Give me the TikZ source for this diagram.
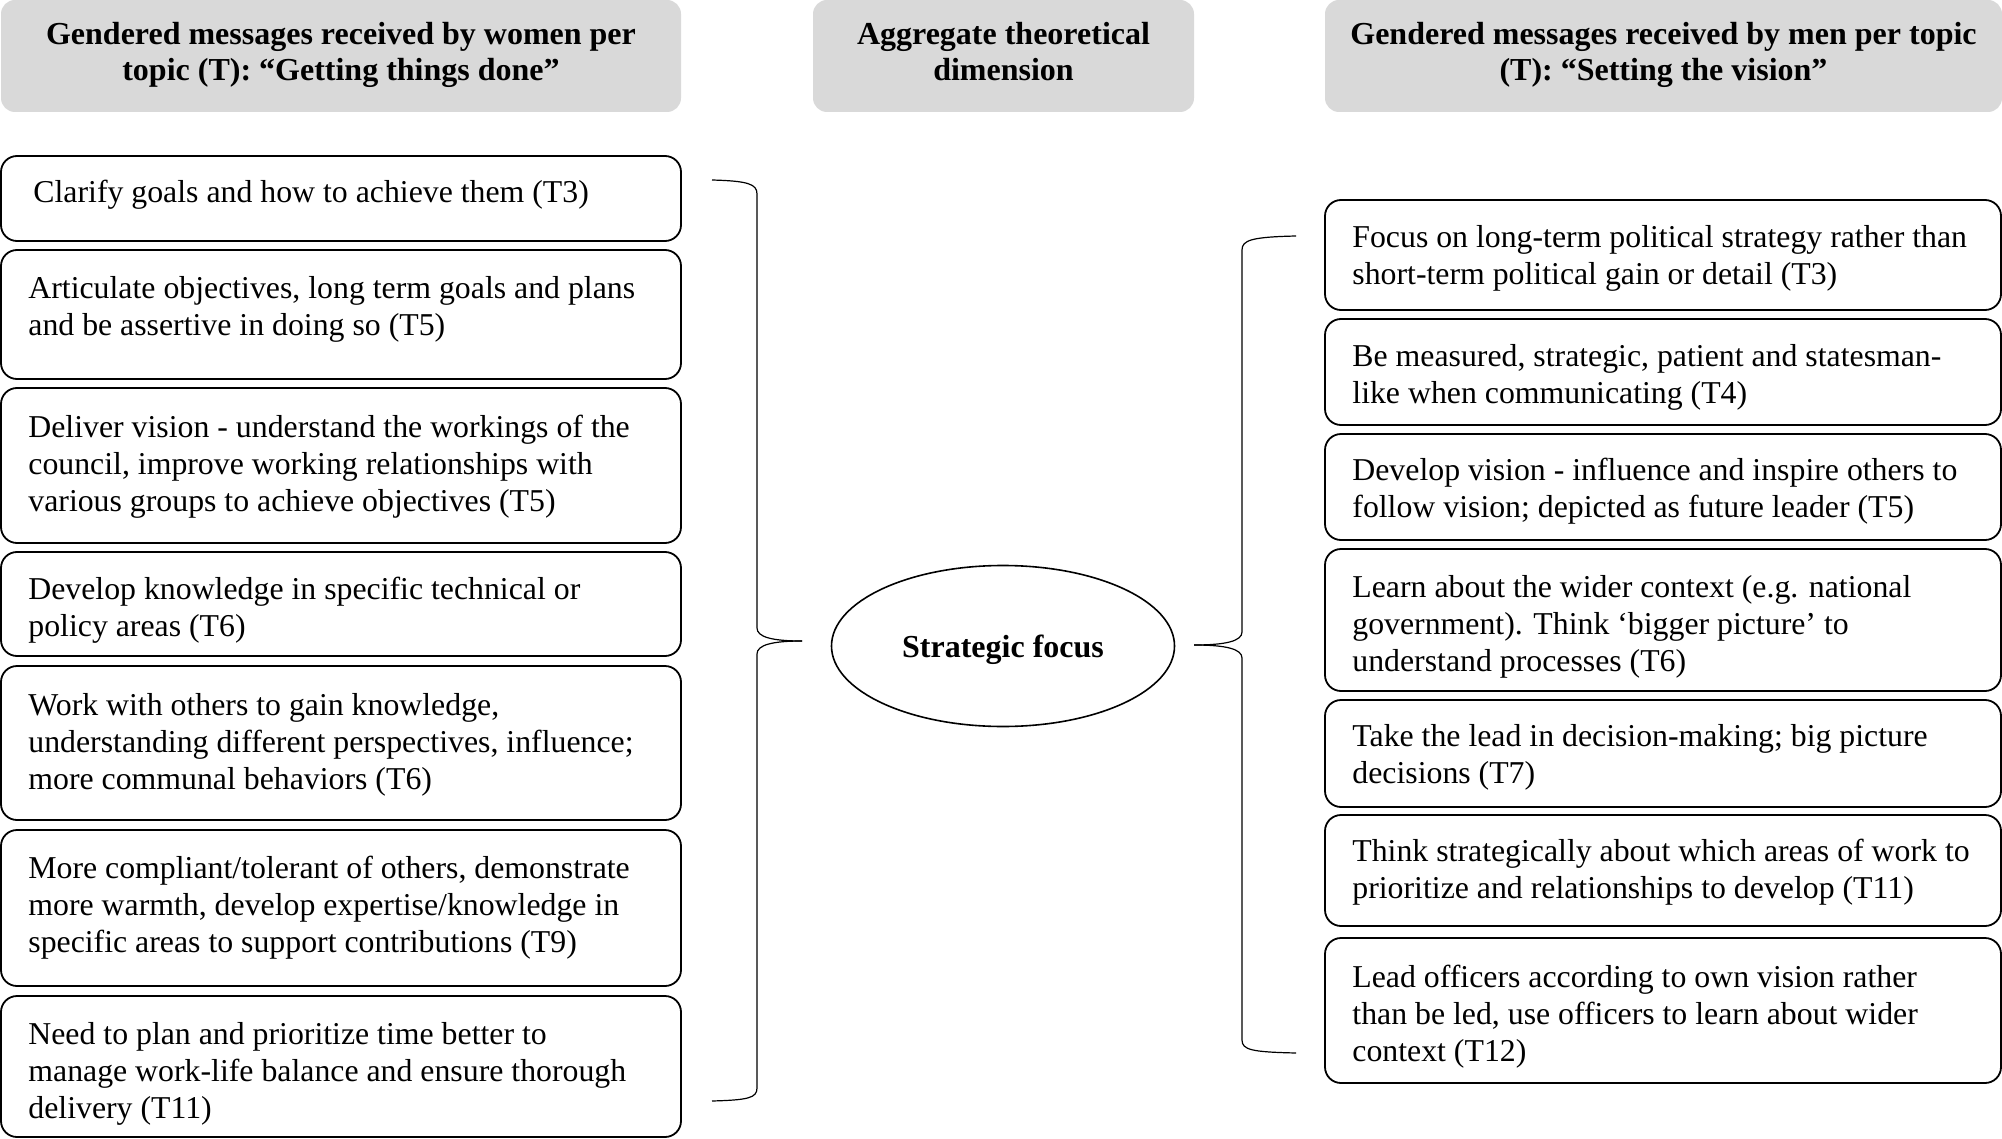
\documentclass[tikz,border=0pt]{standalone}
\usepackage{fontspec}
\setmainfont{Liberation Serif}
\usetikzlibrary{shapes.geometric}
\definecolor{hdrgray}{RGB}{217,217,217}
\tikzset{
  hdr/.style={fill=hdrgray, rounded corners=7pt, inner sep=0pt},
  hdrtext/.style={align=center, font=\fontsize{16}{18}\selectfont\bfseries, inner sep=0pt},
  msgbox/.style={draw, line width=0.9pt, rounded corners=8pt, inner sep=0pt},
  lbox/.style={msgbox, minimum width=340pt, minimum height=#1*0.5pt},
  rbox/.style={msgbox, minimum width=338pt, minimum height=#1*0.5pt},
  msgtext/.style={anchor=west, align=left, inner sep=0pt, font=\fontsize{15.9}{18.5}\selectfont},
  brace/.style={line width=0.6pt},
}
\begin{document}
\begin{tikzpicture}[x=0.5pt,y=-0.5pt]
\useasboundingbox (0,0) rectangle (2002,1139);
% headers
\node[hdr, minimum width=340pt, minimum height=56pt] (hl) at (341,56) {};
\node[hdrtext] (hlt) at (341,54.5) {Gendered messages received by women per\\topic (T): “Getting things done”};
\node[hdr, minimum width=190.5pt, minimum height=56pt] (hm) at (1003.5,56) {};
\node[hdrtext] (hmt) at (1003.5,52) {Aggregate theoretical\\dimension};
\node[hdr, minimum width=338.5pt, minimum height=56pt] (hr) at (1663.5,56) {};
\node[hdrtext] (hrt) at (1663.5,54.5) {Gendered messages received by men per topic\\(T): “Setting the vision”};
% left boxes
\node[lbox=85] (l1) at (341,198.5) {};
\node[lbox=129] (l2) at (341,314.5) {};
\node[lbox=155] (l3) at (341,465.5) {};
\node[lbox=104] (l4) at (341,604) {};
\node[lbox=154] (l5) at (341,743) {};
\node[lbox=156] (l6) at (341,908) {};
\node[lbox=141] (l7) at (341,1066.5) {};
\node[msgtext] (l1t) at (33,195) {Clarify goals and how to achieve them (T3)};
\node[msgtext] (l2t) at (28,309) {Articulate objectives, long term goals and plans\\and be assertive in doing so (T5)};
\node[msgtext] (l3t) at (28,467) {Deliver vision - understand the workings of the\\council, improve working relationships with\\various groups to achieve objectives (T5)};
\node[msgtext] (l4t) at (28,610) {Develop knowledge in specific technical or\\policy areas (T6)};
\node[msgtext] (l5t) at (28,745) {Work with others to gain knowledge,\\understanding different perspectives, influence;\\more communal behaviors (T6)};
\node[msgtext] (l6t) at (28,908) {More compliant/tolerant of others, demonstrate\\more warmth, develop expertise/knowledge in\\specific areas to support contributions (T9)};
\node[msgtext] (l7t) at (28,1074) {Need to plan and prioritize time better to\\manage work-life balance and ensure thorough\\delivery (T11)};
% right boxes
\node[rbox=110] (r1) at (1663,255) {};
\node[rbox=106] (r2) at (1663,372) {};
\node[rbox=106] (r3) at (1663,487) {};
\node[rbox=142] (r4) at (1663,620) {};
\node[rbox=107] (r5) at (1663,753.5) {};
\node[rbox=111] (r6) at (1663,870.5) {};
\node[rbox=145] (r7) at (1663,1010.5) {};
\node[msgtext] (r1t) at (1352,258) {Focus on long-term political strategy rather than\\short-term political gain or detail (T3)};
\node[msgtext] (r2t) at (1352,377) {Be measured, strategic, patient and statesman-\\like when communicating (T4)};
\node[msgtext] (r3t) at (1352,491) {Develop vision - influence and inspire others to\\follow vision; depicted as future leader (T5)};
\node[msgtext] (r4t) at (1352,627) {Learn about the wider context (e.g. national\\government). Think ‘bigger picture’ to\\understand processes (T6)};
\node[msgtext] (r5t) at (1352,757) {Take the lead in decision-making; big picture\\decisions (T7)};
\node[msgtext] (r6t) at (1352,872) {Think strategically about which areas of work to\\prioritize and relationships to develop (T11)};
\node[msgtext] (r7t) at (1352,1017) {Lead officers according to own vision rather\\than be led, use officers to learn about wider\\context (T12)};
% centre ellipse
\node[draw, ellipse, line width=0.8pt, minimum width=171.5pt, minimum height=80.5pt, inner sep=0pt, text depth=0pt, font=\fontsize{16}{18}\selectfont\bfseries] (sf) at (1003,646) {Strategic focus};
% braces
\coordinate (lbt) at (712,180);
\coordinate (lbb) at (712,1101);
\coordinate (lbtip) at (802,641);
\draw[brace] (lbt) .. controls (748,181) and (757,184) .. (757,194) -- (757,628)
  .. controls (757,637) and (772,641) .. (lbtip);
\draw[brace] (lbtip) .. controls (772,641) and (757,645) .. (757,654) -- (757,1088)
  .. controls (757,1098) and (748,1100) .. (lbb);
\coordinate (rbt) at (1296,236);
\coordinate (rbb) at (1296,1053);
\coordinate (rbtip) at (1194,645);
\draw[brace] (rbt) .. controls (1252,237) and (1242,240) .. (1242,250) -- (1242,632)
  .. controls (1242,641) and (1226,645) .. (rbtip);
\draw[brace] (rbtip) .. controls (1226,645) and (1242,649) .. (1242,658) -- (1242,1040)
  .. controls (1242,1050) and (1252,1052) .. (rbb);
\end{tikzpicture}
\end{document}
